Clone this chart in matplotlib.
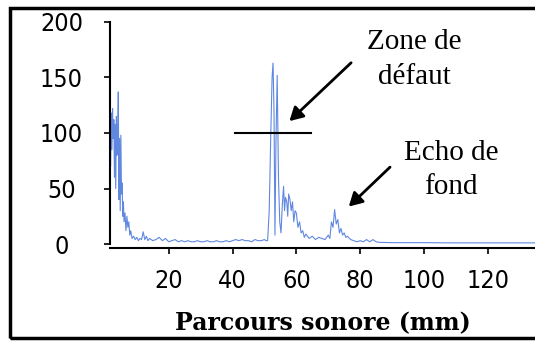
import matplotlib
matplotlib.use("Agg")
import matplotlib.pyplot as plt
from matplotlib.patches import Rectangle

# signal (parcours sonore en mm, amplitude)
x_front = [1.6, 1.8, 2.0, 2.2, 2.4, 2.6, 2.8, 3.0, 3.2, 3.4, 3.6, 3.8, 4.0, 4.2, 4.4,
           4.6, 4.8, 5.0, 5.2, 5.4, 5.6, 5.8, 6.0, 6.3, 6.6, 6.9, 7.2, 7.5, 7.8, 8.1,
           8.5, 9.0, 9.5, 10.0, 10.5, 11.0, 11.5, 12.0, 12.5, 13.0, 13.5]
y_front = [110, 70, 118, 85, 122, 95, 112, 60, 108, 50, 115, 80, 100, 137, 40,
           95, 30, 98, 45, 55, 25, 38, 20, 28, 12, 25, 15, 20, 8, 12,
           5, 7, 4, 6, 3, 5, 4, 11, 4, 7, 3]

x_base = [14, 15, 16, 17, 18, 19, 20, 21, 22, 23, 24, 25, 26, 27, 28, 29, 30, 31, 32,
          33, 34, 35, 36, 37, 38, 39, 40, 41, 42, 43, 44, 45, 46, 47, 48, 49, 50, 50.5]
y_base = [5, 3, 4, 6, 3, 5, 2, 3, 4, 2, 3, 2, 3, 2, 2, 3, 2, 2, 3,
          2, 2, 3, 2, 2, 3, 2, 3, 4, 3, 4, 3, 3, 2, 4, 3, 3, 4, 3]

x_defaut = [51.0, 51.5, 52.0, 52.4, 52.7, 53.0, 53.3, 53.6, 54.0, 54.4, 54.8, 55.2,
            55.6, 56.0, 56.3, 56.6, 57.0, 57.3, 57.6, 58.0, 58.4, 58.8, 59.2, 59.6,
            60.0, 60.5, 61.0, 61.5, 62.0, 62.5, 63.0, 64.0, 65.0, 66.0, 67.0, 68.0,
            69.0, 70.0]
y_defaut = [3, 30, 100, 150, 163, 120, 8, 90, 152, 60, 20, 10,
            35, 52, 30, 42, 38, 25, 45, 40, 30, 38, 20, 30,
            28, 15, 20, 10, 12, 6, 9, 5, 7, 4, 6, 5,
            4, 8]

x_fond = [70.5, 71.0, 71.5, 72.0, 72.5, 73.0, 73.5, 74.0, 74.5, 75.0, 75.5, 76.0,
          77.0, 78.0, 79.0, 80.0, 81.0, 82.0, 83.0, 84.0, 85.0, 86.0, 90.0, 100.0,
          110.0, 120.0, 130.0, 136.0]
y_fond = [5, 20, 15, 31, 18, 22, 10, 14, 8, 10, 6, 7,
          4, 3, 2, 3, 2, 4, 2, 4, 2, 1.5, 1.2, 1.2,
          1.0, 1.0, 1.0, 1.0]

x = x_front + x_base + x_defaut + x_fond
y = y_front + y_base + y_defaut + y_fond

y_ticks = [0, 50, 100, 150, 200]
x_ticks = [20, 40, 60, 80, 100, 120]

fig = plt.figure(figsize=(5.35, 3.42), dpi=100)
ax = fig.add_axes([110 / 535, 1 - 244 / 342, 1 - 110 / 535, (244 - 22) / 342])

for s in ['top', 'right']:
    ax.spines[s].set_visible(False)
ax.spines['left'].set_linewidth(1.5)
ax.spines['bottom'].set_linewidth(1.5)
ax.spines['bottom'].set_position(('outward', 3))

ax.plot(x, y, color='#6088e0', lw=0.8)

# seuil
ax.plot([40.8, 64.6], [100, 100], color='black', lw=1.5)

ax.set_xlim(1.6, 134.8)
ax.set_ylim(0, 200)
ax.set_xticks(x_ticks)
ax.set_yticks(y_ticks)
tick_kw = dict(family='DejaVu Sans', fontstretch='condensed', fontsize=18)
ax.set_xticklabels([str(t) for t in x_ticks], **tick_kw)
ax.set_yticklabels([str(t) for t in y_ticks], ha='center', **tick_kw)
ax.tick_params(axis='y', length=4, width=1.2, pad=31)
ax.tick_params(axis='x', length=4, width=1.2, pad=11)

ax.set_xlabel('Parcours sonore (mm)', family='DejaVu Serif', fontweight='bold',
              fontsize=17, labelpad=13)

serif = 'Liberation Serif'
ax.text(97, 176, 'Zone de', family=serif, fontsize=21, ha='center', va='baseline')
ax.text(97, 144, 'défaut', family=serif, fontsize=21, ha='center', va='baseline')
ax.annotate('', xy=(57.2, 109), xytext=(77.8, 165),
            arrowprops=dict(arrowstyle='-|>,head_length=0.8,head_width=0.45',
                            color='black', lw=2))

ax.text(108.5, 76, 'Echo de', family=serif, fontsize=21, ha='center', va='baseline')
ax.text(108.5, 45, 'fond', family=serif, fontsize=21, ha='center', va='baseline')
ax.annotate('', xy=(75.8, 32), xytext=(90, 71),
            arrowprops=dict(arrowstyle='-|>,head_length=0.8,head_width=0.45',
                            color='black', lw=2))

# cadre
fig.patches.append(Rectangle((10 / 535, 4 / 342), 1.2, 1 - 12 / 342,
                             transform=fig.transFigure, fill=False,
                             edgecolor='black', lw=2.5))

fig.savefig('out.png', dpi=100)
